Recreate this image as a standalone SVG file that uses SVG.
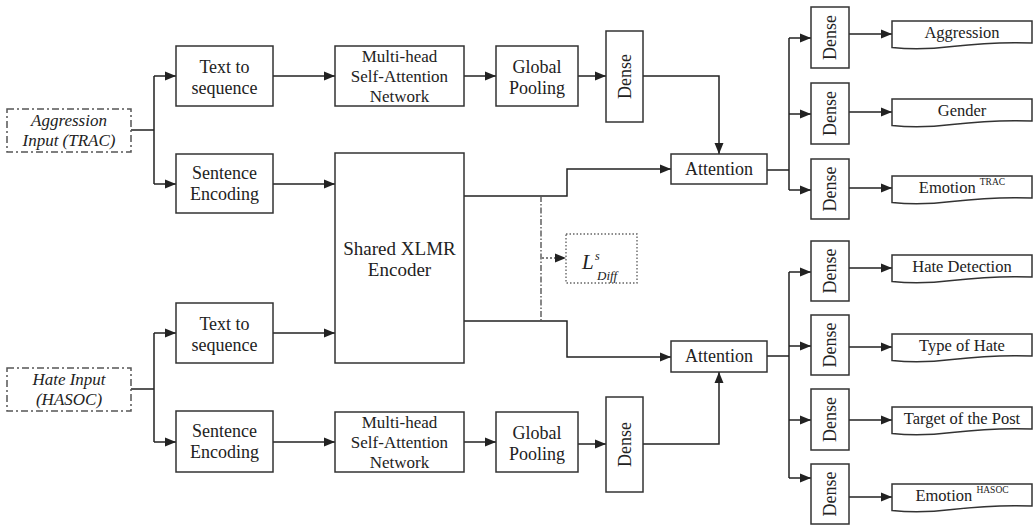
<svg xmlns="http://www.w3.org/2000/svg" width="1033" height="525" viewBox="0 0 1033 525">
<style>
.box{fill:#fff;stroke:#333;stroke-width:1.5}
.inp{fill:#fff;stroke:#555;stroke-width:1.5;stroke-dasharray:7,3,2,3}
.ldiff{fill:#fff;stroke:#666;stroke-width:1.4;stroke-dasharray:1.5,2}
.t{font-family:"Liberation Serif","Times New Roman",serif;font-size:18px;fill:#222;text-anchor:middle}
.ts{font-size:17px}
.tb{font-size:19px}
.to{font-family:"Liberation Serif","Times New Roman",serif;font-size:16.5px;fill:#222;text-anchor:middle}
.ti{font-family:"Liberation Serif","Times New Roman",serif;font-size:17px;font-style:italic;fill:#222;text-anchor:middle}
.sup{font-size:9.5px}
.c{fill:none;stroke:#222;stroke-width:1.5}
.ca{fill:none;stroke:#222;stroke-width:1.5;marker-end:url(#arr)}
.dd{fill:none;stroke:#555;stroke-width:1.4;stroke-dasharray:6,2,1.5,2}
.dda{fill:none;stroke:#555;stroke-width:1.4;stroke-dasharray:2,2;marker-end:url(#arr)}
</style>
<defs>
<marker id="arr" markerUnits="userSpaceOnUse" markerWidth="12" markerHeight="10" refX="11" refY="5" orient="auto">
<path d="M0,0.5 L11,5 L0,9.5 Z" fill="#222"/>
</marker>
<path id="doc" d="M0,0 H140 V22 C115,21 90,22 60,25.5 C35,28.5 15,28 0,26.5 Z"/>
</defs>
<rect width="1033" height="525" fill="#fff"/>

<g id="connectors">
<path class="c" d="M131,130 H154 M154,76 V184"/>
<path class="ca" d="M154,76 H176"/>
<path class="ca" d="M154,184 H176"/>
<path class="c" d="M131,389 H154 M154,333 V442"/>
<path class="ca" d="M154,333 H176"/>
<path class="ca" d="M154,442 H176"/>
<path class="ca" d="M273,76 H335"/>
<path class="ca" d="M273,184 H335"/>
<path class="ca" d="M273,333 H335"/>
<path class="ca" d="M273,442 H335"/>
<path class="ca" d="M464,76 H496"/>
<path class="ca" d="M464,442 H496"/>
<path class="ca" d="M578,76 H606"/>
<path class="ca" d="M578,444 H606"/>
<path class="ca" d="M643,76 H719 V154"/>
<path class="ca" d="M643,444 H719 V372"/>
<path class="ca" d="M464,196 H567 V169 H671"/>
<path class="ca" d="M464,321 H567 V357 H671"/>
<path class="dd" d="M541,196 V321"/>
<path class="dda" d="M542,258 H566"/>
<path class="c" d="M767,170 H789 M789,38 V190"/>
<path class="ca" d="M789,38 H811"/>
<path class="ca" d="M789,114 H811"/>
<path class="ca" d="M789,190 H811"/>
<path class="c" d="M767,356 H789 M789,272 V478"/>
<path class="ca" d="M789,272 H811"/>
<path class="ca" d="M789,346 H811"/>
<path class="ca" d="M789,420 H811"/>
<path class="ca" d="M789,478 H811"/>
<path class="ca" d="M849,34 H892"/>
<path class="ca" d="M849,112 H892"/>
<path class="ca" d="M849,188 H892"/>
<path class="ca" d="M849,268 H892"/>
<path class="ca" d="M849,347 H892"/>
<path class="ca" d="M849,420 H892"/>
<path class="ca" d="M849,497 H892"/>
</g>

<g id="input-trac">
<rect class="inp" x="7" y="109" width="124" height="43"/>
<text class="ti" x="69" y="126">Aggression</text>
<text class="ti" x="69" y="146">Input (TRAC)</text>
</g>
<g id="input-hasoc">
<rect class="inp" x="7" y="368" width="124" height="43"/>
<text class="ti" x="69" y="385">Hate Input</text>
<text class="ti" x="69" y="405">(HASOC)</text>
</g>

<g id="tts-top">
<rect class="box" x="176" y="46" width="97" height="60"/>
<text class="t" x="224.5" y="73">Text to</text>
<text class="t" x="224.5" y="94">sequence</text>
</g>
<g id="se-top">
<rect class="box" x="176" y="154" width="97" height="59"/>
<text class="t" x="224.5" y="179">Sentence</text>
<text class="t" x="224.5" y="200">Encoding</text>
</g>
<g id="tts-bottom">
<rect class="box" x="176" y="303" width="97" height="60"/>
<text class="t" x="224.5" y="330">Text to</text>
<text class="t" x="224.5" y="351">sequence</text>
</g>
<g id="se-bottom">
<rect class="box" x="176" y="411" width="97" height="61"/>
<text class="t" x="224.5" y="437">Sentence</text>
<text class="t" x="224.5" y="458">Encoding</text>
</g>

<g id="mhsa-top">
<rect class="box" x="335" y="46" width="129" height="60"/>
<text class="t ts" x="399.5" y="62">Multi-head</text>
<text class="t ts" x="399.5" y="82">Self-Attention</text>
<text class="t ts" x="399.5" y="102">Network</text>
</g>
<g id="mhsa-bottom">
<rect class="box" x="335" y="412" width="129" height="60"/>
<text class="t ts" x="399.5" y="428">Multi-head</text>
<text class="t ts" x="399.5" y="448">Self-Attention</text>
<text class="t ts" x="399.5" y="468">Network</text>
</g>

<g id="shared-xlmr">
<rect class="box" x="335" y="153" width="129" height="210"/>
<text class="t tb" x="399.5" y="255">Shared XLMR</text>
<text class="t tb" x="399.5" y="276">Encoder</text>
</g>

<g id="gp-top">
<rect class="box" x="496" y="46" width="82" height="60"/>
<text class="t" x="537" y="73">Global</text>
<text class="t" x="537" y="94">Pooling</text>
</g>
<g id="gp-bottom">
<rect class="box" x="496" y="412" width="82" height="60"/>
<text class="t" x="537" y="439">Global</text>
<text class="t" x="537" y="460">Pooling</text>
</g>

<g id="dense-top">
<rect class="box" x="606" y="31" width="37" height="91"/>
<text class="t" transform="translate(624.5,76.5) rotate(-90)" x="0" y="6">Dense</text>
</g>
<g id="dense-bottom">
<rect class="box" x="606" y="397" width="37" height="95"/>
<text class="t" transform="translate(624.5,444.5) rotate(-90)" x="0" y="6">Dense</text>
</g>

<g id="ldiff">
<rect class="ldiff" x="566" y="234" width="71" height="49"/>
<text font-family="Liberation Serif,serif" font-style="italic" fill="#222" font-size="21" x="582" y="269">L</text>
<text font-family="Liberation Serif,serif" font-style="italic" fill="#222" font-size="12" x="595" y="260">s</text>
<text font-family="Liberation Serif,serif" font-style="italic" fill="#222" font-size="13" x="597" y="280">Diff</text>
</g>

<g id="attention-top">
<rect class="box" x="671" y="154" width="96" height="30"/>
<text class="t" x="719" y="175">Attention</text>
</g>
<g id="attention-bottom">
<rect class="box" x="671" y="341" width="96" height="31"/>
<text class="t" x="719" y="362">Attention</text>
</g>

<g id="dense-t1"><rect class="box" x="811" y="7" width="38" height="61"/><text class="t" transform="translate(830,37.5) rotate(-90)" y="6">Dense</text></g>
<g id="dense-t2"><rect class="box" x="811" y="83" width="38" height="61"/><text class="t" transform="translate(830,113.5) rotate(-90)" y="6">Dense</text></g>
<g id="dense-t3"><rect class="box" x="811" y="159" width="38" height="60"/><text class="t" transform="translate(830,189) rotate(-90)" y="6">Dense</text></g>
<g id="dense-h1"><rect class="box" x="811" y="241" width="38" height="60"/><text class="t" transform="translate(830,271) rotate(-90)" y="6">Dense</text></g>
<g id="dense-h2"><rect class="box" x="811" y="315" width="38" height="60"/><text class="t" transform="translate(830,345) rotate(-90)" y="6">Dense</text></g>
<g id="dense-h3"><rect class="box" x="811" y="389" width="38" height="61"/><text class="t" transform="translate(830,419.5) rotate(-90)" y="6">Dense</text></g>
<g id="dense-h4"><rect class="box" x="811" y="464" width="38" height="60"/><text class="t" transform="translate(830,494) rotate(-90)" y="6">Dense</text></g>

<g id="out-aggression"><use href="#doc" class="box" x="892" y="21"/><text class="to" x="962" y="38">Aggression</text></g>
<g id="out-gender"><use href="#doc" class="box" x="892" y="99"/><text class="to" x="962" y="116">Gender</text></g>
<g id="out-emotion-trac"><use href="#doc" class="box" x="892" y="176"/><text class="to" x="962" y="193">Emotion <tspan class="sup" dy="-8">TRAC</tspan></text></g>
<g id="out-hate"><use href="#doc" class="box" x="892" y="255"/><text class="to" x="962" y="272">Hate Detection</text></g>
<g id="out-type"><use href="#doc" class="box" x="892" y="334"/><text class="to" x="962" y="351">Type of Hate</text></g>
<g id="out-target"><use href="#doc" class="box" x="892" y="407"/><text class="to" x="962" y="424">Target of the Post</text></g>
<g id="out-emotion-hasoc"><use href="#doc" class="box" x="892" y="484"/><text class="to" x="962" y="501">Emotion <tspan class="sup" dy="-8">HASOC</tspan></text></g>
</svg>
